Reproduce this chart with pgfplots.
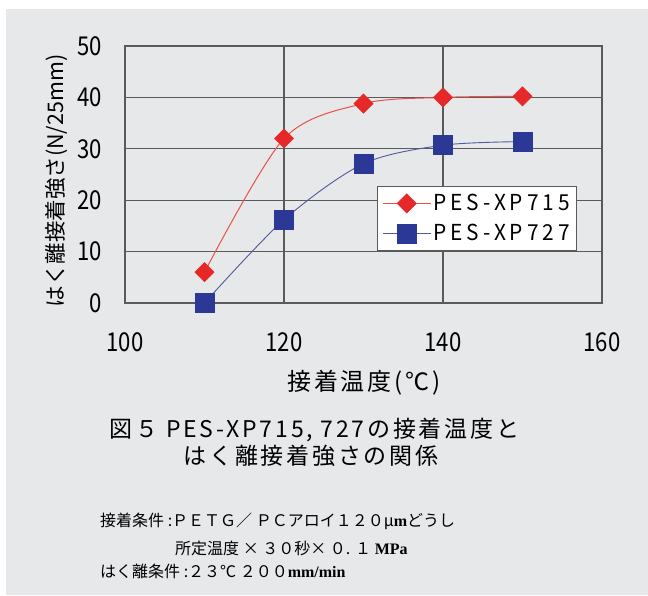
\documentclass[border=0pt]{standalone}
\usepackage{pgfplots}
\pgfplotsset{compat=1.18}
\usepackage{fontspec}
\setmainfont{Noto Sans CJK JP}
\newfontfamily\narrowf[FakeStretch=0.85]{Noto Sans CJK JP}
\newfontfamily\spacedf[LetterSpace=12]{Noto Sans CJK JP}
\newfontfamily\legf[LetterSpace=18, FakeStretch=0.95]{Noto Sans CJK JP}
\newfontfamily\serifb{Liberation Serif}
\definecolor{bg}{RGB}{230,232,234}
\definecolor{myred}{RGB}{230,40,40}
\definecolor{myredline}{RGB}{236,80,72}
\definecolor{myblue}{RGB}{44,56,150}
\definecolor{mybline}{RGB}{80,90,160}
\definecolor{framec}{RGB}{90,90,90}
\begin{document}
\begin{tikzpicture}[x=1pt,y=1pt]
\path[use as bounding box] (0pt,0pt) rectangle (648pt,595pt);
\fill[bg] (6pt,0pt) rectangle (648pt,586pt);
\begin{axis}[
  at={(125pt,292pt)}, anchor=south west,
  scale only axis, width=477pt, height=257pt,
  xmin=100, xmax=160, ymin=0, ymax=50,
  xtick={100,120,140,160}, ytick={0,10,20,30,40,50},
  grid=major,
  major grid style={draw=framec, line width=1.1pt},
  axis line style={draw=framec, line width=1.3pt},
  major tick length=0pt,
  /pgf/number format/assume math mode=true,
  xticklabel style={font=\narrowf\fontsize{26}{26}\selectfont, anchor=center, yshift=-39pt, inner sep=0pt},
  yticklabel style={font=\narrowf\fontsize{26}{26}\selectfont, anchor=east, xshift=-23pt, inner sep=0pt},
  legend style={at={(0.528,0.455)}, anchor=north west, fill=white, draw=framec, line width=0.8pt,
    font=\legf\fontsize{22}{22}\selectfont, inner xsep=5pt, inner ysep=6pt,
    row sep=8pt},
  legend cell align=left,
  legend image code/.code={\draw[mark repeat=2,mark phase=2] plot coordinates {(0pt,0pt) (24pt,0pt) (48pt,0pt)};},
]
\addplot[myredline, line width=1pt, smooth, tension=0.5, mark=square*, mark size=6.8pt,
  mark options={rotate=45, fill=myred, draw=myred, line width=0.5pt}]
  coordinates {(110,6) (120,32) (130,38.8) (140,40) (150,40.2)};
\addlegendentry{PES-XP715}
\addplot[mybline, line width=0.9pt, smooth, tension=0.5, mark=square*, mark size=9.5pt,
  mark options={fill=myblue, draw=myblue, line width=0.5pt}]
  coordinates {(110,0) (120,16.2) (130,27.1) (140,30.7) (150,31.4)};
\addlegendentry{PES-XP727}
\end{axis}
% axis labels
\node[rotate=90, font=\fontsize{21.5}{21.5}\selectfont] at (57pt,414pt) {はく離接着強さ(N/25mm)};
\node[font=\spacedf\fontsize{24}{24}\selectfont] at (364pt,212pt) {接着温度(℃)};
% caption
\node[font=\spacedf\fontsize{23}{23}\selectfont, anchor=west] at (106pt,165pt) {図５ PES-XP715, 727の接着温度と};
\node[font=\spacedf\fontsize{23}{23}\selectfont] at (311pt,139pt) {はく離接着強さの関係};
% conditions
\node[font=\fontsize{16}{16}\selectfont, anchor=west, inner sep=0pt] at (100pt,74pt) {接着条件 :ＰＥＴＧ／ ＰＣアロイ１２０μ{\serifb\bfseries m}どうし};
\node[font=\fontsize{16}{16}\selectfont, anchor=west, inner sep=0pt] at (175pt,47pt) {所定温度 × ３０秒× ０. １ {\serifb\bfseries MPa}};
\node[font=\fontsize{16}{16}\selectfont, anchor=west, inner sep=0pt] at (100pt,24pt) {はく離条件 :２３℃ ２００{\serifb\bfseries mm/min}};
\end{tikzpicture}
\end{document}
